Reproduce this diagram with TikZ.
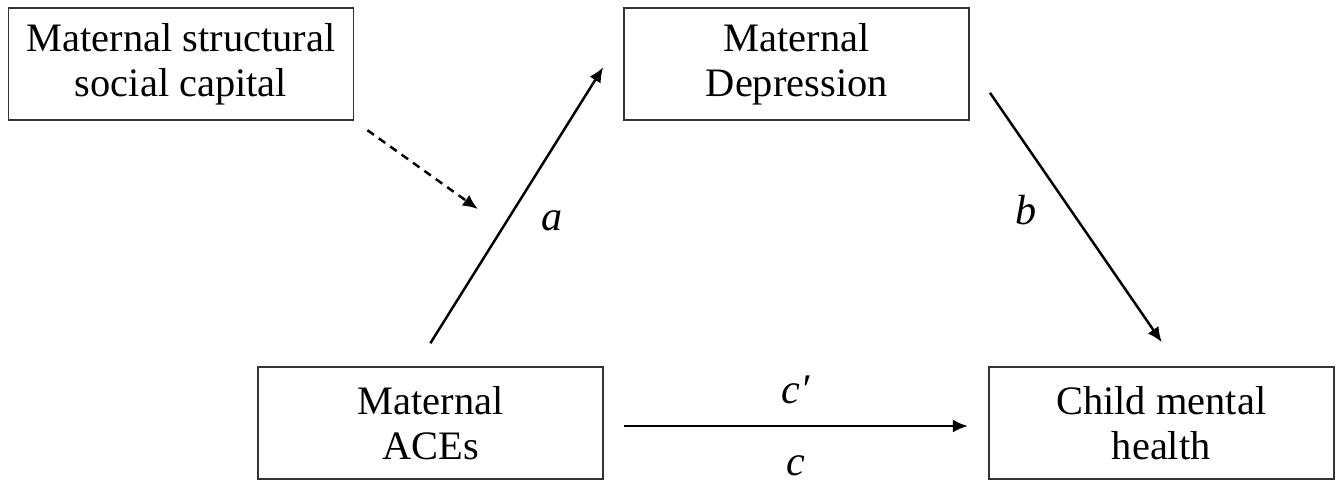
\documentclass[tikz,border=0pt]{standalone}
\usepackage{fontspec}
\setmainfont{Liberation Serif}
\usetikzlibrary{positioning, arrows.meta}
\tikzset{
	box/.style={
		draw=black!80,
		line width=1pt,
		rectangle,
		minimum width=6.9cm,
		minimum height=2.24cm,
		align=center,
		inner sep=0pt,
		font=\fontsize{23}{25.6}\selectfont
	},
	arrow/.style={
		draw=black,
		line width=1.4pt,
		-{Latex[length=0.3cm,width=0.26cm]}
	},
	dasharrow/.style={
		arrow,
		dash pattern=on 0.16cm off 0.12cm
	},
	lbl/.style={
		inner sep=0pt,
		font=\fontsize{24}{28}\itshape
	},
}

\begin{document}
\begin{tikzpicture}

\useasboundingbox (0,0) rectangle (26.78,-9.6);

% Boxes
\node[box] (cap) at (3.62,-1.28) {Maternal structural\\social capital};
\node[box, right = 5.38cm of cap] (dep) {Maternal\\Depression};
\node[box] (ace) at (8.61,-8.46) {Maternal\\ACEs};
\node[box, right = 7.68cm of ace] (chm) {Child mental\\health};

% Arrows
\draw [arrow, shorten <=0.54cm, shorten >=0.76cm]
	([xshift=-0.29cm]ace.north) -- node[pos=0.44, right=0.66cm, lbl] (la) {a}
	coordinate[pos=0.42] (mod) ([yshift=0.58cm]dep.west);
\draw [arrow, shorten <=0.7cm, shorten >=0.58cm]
	(dep.east) -- node[pos=0.485, left=0.66cm, lbl] (lb) {b} ([xshift=0.34cm]chm.north);
\draw [arrow, shorten <=0.4cm, shorten >=0.4cm]
	([yshift=-0.06cm]ace.east) -- node[above=0.42cm, lbl] (lc1) {c′}
	node[below=0.56cm, lbl] (lc) {c} ([yshift=-0.06cm]chm.west);
\draw [dasharrow, shorten <=0.32cm, shorten >=0.62cm] (cap.south east) -- (mod);

\end{tikzpicture}
\end{document}
